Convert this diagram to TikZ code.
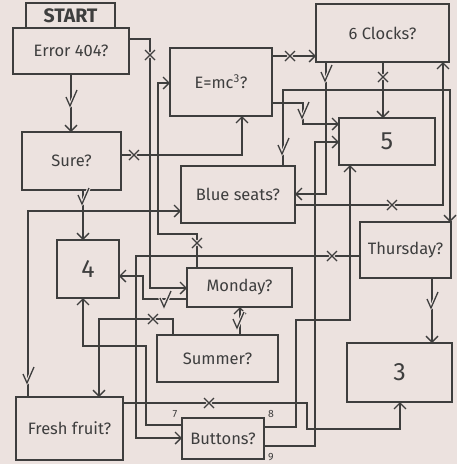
\documentclass[tikz,border=0pt]{standalone}
\usepackage{fontspec}
\setmainfont{Fira Sans}
\usetikzlibrary{arrows.meta}
\definecolor{bg}{RGB}{236,226,223}
\definecolor{ink}{RGB}{62,62,62}
\begin{document}
\begin{tikzpicture}[x=1pt,y=-1pt,
  box/.style={draw=ink,line width=1.6pt,fill=bg,rectangle,inner sep=0pt,outer sep=0pt,text=ink,font=\fontsize{16.5}{19}\selectfont},
  bigbox/.style={box,font=\fontsize{25}{29}\selectfont},
  link/.style={draw=ink,line width=1.6pt,-{Straight Barb[length=6pt,width=12pt,line width=1.4pt]}},
  numlab/.style={text=ink,font=\fontsize{10.5}{12}\selectfont,inner sep=0pt},
  xm/.pic={\draw[bg,line width=3.5pt,line cap=round] (-5,-5)--(5,5) (-5,5)--(5,-5);
           \draw[ink,line width=1.3pt] (-5,-5)--(5,5) (-5,5)--(5,-5);},
  ck/.pic={\draw[bg,line width=3.5pt,line cap=round,line join=round] (-5,-2)--(-1,7)--(6,-9);
           \draw[ink,line width=1.3pt] (-5,-2)--(-1,7)--(6,-9);}
]
\fill[bg] (0,0) rectangle (457,464);
\useasboundingbox (0,0) rectangle (457,464);

\node[box,minimum width=89pt,minimum height=25pt,font=\bfseries\fontsize{19.5}{21}\selectfont] (start) at (70.5,15.5) {START};
\node[box,minimum width=116pt,minimum height=46pt] (err) at (71,51) {Error 404?};
\node[box,minimum width=102pt,minimum height=68pt] (emc) at (221,82) {E=mc\textsuperscript{3}?};
\node[box,minimum width=133pt,minimum height=58pt] (clk) at (382.5,33) {6 Clocks?};
\node[bigbox,minimum width=96pt,minimum height=47pt] (five) at (387,141.5) {5};
\node[box,minimum width=99pt,minimum height=58pt] (sure) at (71.5,161) {Sure?};
\node[box,minimum width=114pt,minimum height=57pt] (blue) at (238,194.5) {Blue seats?};
\node[box,minimum width=91pt,minimum height=56pt] (thu) at (405.5,250) {Thursday?};
\node[bigbox,minimum width=62pt,minimum height=58pt] (four) at (88,269) {4};
\node[box,minimum width=105pt,minimum height=39pt] (mon) at (239.5,287.5) {Monday?};
\node[box,minimum width=121pt,minimum height=47pt] (sum) at (217.5,358.5) {Summer?};
\node[bigbox,minimum width=105pt,minimum height=59pt] (three) at (399.5,372.5) {3};
\node[box,minimum width=107pt,minimum height=63pt] (fresh) at (69.5,428.5) {Fresh fruit?};
\node[box,minimum width=82pt,minimum height=41pt] (btn) at (223,438.5) {Buttons?};

\node[numlab] (l7) at (175,414) {7};
\node[numlab] (l8) at (271,414) {8};
\node[numlab] (l9) at (271,457) {9};

\draw[link] (err.south) -- (err.south |- sure.north);
\draw[link] (err.east |- 0,39) -- (150,39) -- (150,288) -- (mon.west |- 0,288);
\draw[link] (mon.north -| 197,0) -- (197,234) -- (158,234) -- (158,83) -- (emc.west |- 0,83);
\draw[link] (sure.east |- 0,155) -- (242,155) -- (emc.south -| 242,0);
\draw[link] (sure.south -| 83,0) -- (four.north -| 83,0);
\draw[link] (fresh.north -| 28,0) -- (28,211) -- (blue.west |- 0,211);
\draw[link] (emc.east |- 0,56) -- (clk.west |- 0,56);
\draw[link] (emc.east |- 0,103) -- (303,103) -- (303,124) -- (five.west |- 0,124);
\draw[link] (clk.south -| 326,0) -- (326,194) -- (blue.east |- 0,194);
\draw[link] (clk.south -| 383,0) -- (five.north -| 383,0);
\draw[link] (blue.east |- 0,205) -- (443,205) -- (clk.south -| 443,0);
\draw[link] (blue.north -| 283,0) -- (283,90) -- (450,90) -- (thu.north -| 450,0);
\draw[link] (btn.east |- 0,446) -- (315,446) -- (315,142) -- (five.west |- 0,142);
\draw[link] (btn.east |- 0,427) -- (296,427) -- (296,320) -- (350,320) -- (five.south -| 350,0);
\draw[link] (thu.west |- 0,256) -- (136,256) -- (136,438) -- (btn.west |- 0,438);
\draw[link] (thu.south -| 432,0) -- (three.north -| 432,0);
\draw[link] (mon.west |- 0,299) -- (143,299) -- (143,276) -- (four.east |- 0,276);
\draw[link] (sum.north -| 240,0) -- (mon.south -| 240,0);
\draw[link] (sum.north -| 173,0) -- (173,319) -- (99,319) -- (fresh.north -| 99,0);
\draw[link] (btn.west |- 0,425) -- (146,425) -- (146,346) -- (83,346) -- (four.south -| 83,0);
\draw[link] (fresh.east |- 0,403) -- (307,403) -- (307,429) -- (400,429) -- (three.south -| 400,0);

\pic at (150,55) {xm};
\pic at (197,243) {xm};
\pic at (134,155) {xm};
\pic at (290,56) {xm};
\pic at (383,77) {xm};
\pic at (392,205) {xm};
\pic at (332,256) {xm};
\pic at (153,319) {xm};
\pic at (209,403) {xm};

\pic at (71,99) {ck};
\pic at (83,197) {ck};
\pic at (28,376) {ck};
\pic at (303,111) {ck};
\pic at (326,74) {ck};
\pic at (283,147) {ck};
\pic at (432,301) {ck};
\pic at (165,300) {ck};
\pic at (238,321) {ck};
\end{tikzpicture}
\end{document}
